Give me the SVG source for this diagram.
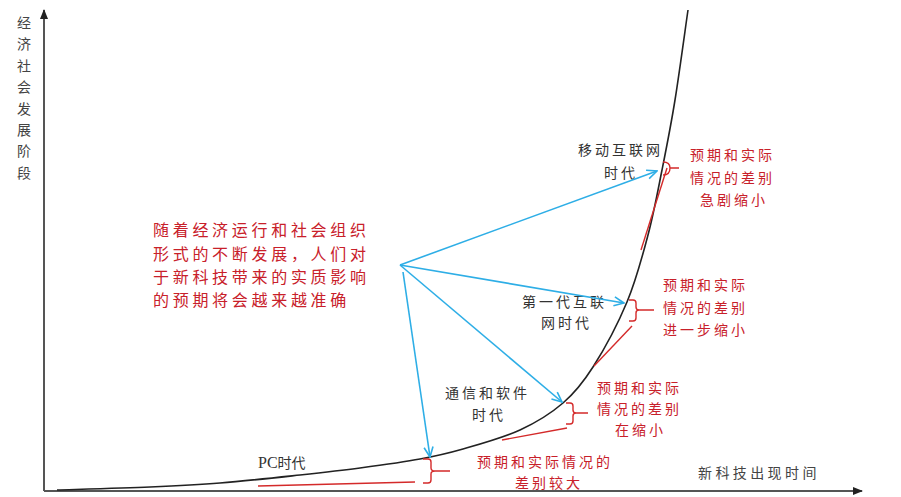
<svg xmlns="http://www.w3.org/2000/svg" width="901" height="497" viewBox="0 0 901 497">
<style>
.cjk{font-family:"Noto Sans CJK SC","Noto Sans CJK JP",sans-serif;}
.lbl{font-size:14px;letter-spacing:3px;fill:#333;}
.red{font-size:14px;letter-spacing:3px;fill:#c8202a;}
.main{font-size:16px;letter-spacing:3.7px;fill:#c8202a;}
.axis{stroke:#555;stroke-width:2;fill:none;}
.curve{stroke:#222;stroke-width:1.6;fill:none;}
.rline{stroke:#d42a2a;stroke-width:1.4;fill:none;}
.conn{stroke:#2eaee6;stroke-width:1.6;fill:none;marker-end:url(#blueArrow);}
</style>
<defs>
<marker id="blueArrow" viewBox="0 0 12 12" refX="11" refY="6" markerWidth="12" markerHeight="12" orient="auto" markerUnits="userSpaceOnUse">
<path d="M1,1.5 L11,6 L1,10.5" fill="none" stroke="#2eaee6" stroke-width="1.6"/>
</marker>
<marker id="axisArrow" viewBox="0 0 10 10" refX="9" refY="5" markerWidth="10" markerHeight="10" orient="auto" markerUnits="userSpaceOnUse">
<path d="M0,1 L10,5 L0,9 Z" fill="#222"/>
</marker>
</defs>
<rect width="901" height="497" fill="#fff"/>

<g id="axes">
<path class="axis" d="M44,491 V10" marker-end="url(#axisArrow)"/>
<path class="axis" d="M44,491 H862" marker-end="url(#axisArrow)"/>
<text class="cjk lbl" x="24" text-anchor="middle" style="letter-spacing:0;fill:#444">
<tspan x="24" y="28">经</tspan><tspan x="24" y="49">济</tspan><tspan x="24" y="71">社</tspan><tspan x="24" y="92">会</tspan><tspan x="24" y="114">发</tspan><tspan x="24" y="135">展</tspan><tspan x="24" y="156">阶</tspan><tspan x="24" y="178">段</tspan>
</text>
<text class="cjk lbl" x="698" y="478" style="letter-spacing:3.4px;fill:#444">新科技出现时间</text>
</g>

<g id="curve">
<path class="curve" d="M57,490 C72.5,489.5 122.8,488.2 150,487 C177.2,485.8 195,485 220,483 C245,481 276.7,477.5 300,475 C323.3,472.5 340,470.7 360,468 C380,465.3 402.8,462.2 420,459 C437.2,455.8 446.3,453.8 463,449 C479.7,444.2 503.3,437.7 520,430 C536.7,422.3 550.8,413.5 563,403 C575.2,392.5 582.3,383.8 593,367 C603.7,350.2 617.8,324 627,302 C636.2,280 642.2,257 648,235 C653.8,213 657.5,192.5 662,170 C666.5,147.5 670.7,126.7 675,100 C679.3,73.3 685.8,25 688,10"/>
</g>

<g id="main-note">
<text class="cjk main" x="153" y="236">随着经济运行和社会组织</text>
<text class="cjk main" x="153" y="260">形式的不断发展，人们对</text>
<text class="cjk main" x="153" y="283">于新科技带来的实质影响</text>
<text class="cjk main" x="153" y="306">的预期将会越来越准确</text>
</g>

<g id="era-pc">
<text x="258" y="468" style="font-family:'Liberation Serif','Noto Sans CJK SC',serif;font-size:16px;fill:#333">PC<tspan class="cjk" style="font-size:14px">时代</tspan></text>
</g>
<g id="gap-pc">
<path class="rline" d="M258,486 L415,482"/>
<path class="rline" d="M423,459 H428 Q431,459 431,462 V468 Q431,471 435,471 Q431,471 431,474 V480 Q431,483 428,483 H423 M435,471 H450"/>
<text class="cjk red" x="477" y="467">预期和实际情况的</text>
<text class="cjk red" x="515" y="488">差别较大</text>
</g>

<g id="era-comm">
<text class="cjk lbl" x="445" y="398">通信和软件</text>
<text class="cjk lbl" x="472" y="420">时代</text>
</g>
<g id="gap-comm">
<path class="rline" d="M502,440 L567,428"/>
<path class="rline" d="M566,403 H570 Q573,403 573,406 V410 Q573,413 576,413 Q573,413 573,416 V421 Q573,424 570,424 H566 M576,413 H588"/>
<text class="cjk red" x="597" y="393">预期和实际</text>
<text class="cjk red" x="597" y="414">情况的差别</text>
<text class="cjk red" x="615" y="435">在缩小</text>
</g>

<g id="era-web1">
<text class="cjk lbl" x="522" y="307">第一代互联</text>
<text class="cjk lbl" x="541" y="328">网时代</text>
</g>
<g id="gap-web1">
<path class="rline" d="M594,366 L632,326"/>
<path class="rline" d="M629,300 H633 Q636,300 636,303 V307 Q636,310 639,310 Q636,310 636,313 V318 Q636,321 633,321 H629 M639,310 H654"/>
<text class="cjk red" x="663" y="290">预期和实际</text>
<text class="cjk red" x="663" y="313">情况的差别</text>
<text class="cjk red" x="663" y="335">进一步缩小</text>
</g>

<g id="era-mobile">
<text class="cjk lbl" x="578" y="155">移动互联网</text>
<text class="cjk lbl" x="604" y="178">时代</text>
</g>
<g id="gap-mobile">
<path class="rline" d="M641,250 L667,168"/>
<path class="rline" d="M663,162 Q670,162 670,168 Q670,175 663,175 M670,168 H679"/>
<text class="cjk red" x="690" y="160">预期和实际</text>
<text class="cjk red" x="690" y="183">情况的差别</text>
<text class="cjk red" x="700" y="205">急剧缩小</text>
</g>

<g id="connectors">
<path class="conn" d="M400,265 L657,171"/>
<path class="conn" d="M400,265 L624,303"/>
<path class="conn" d="M400,265 L562,402"/>
<path class="conn" d="M403,272 L430,457"/>
</g>
</svg>
